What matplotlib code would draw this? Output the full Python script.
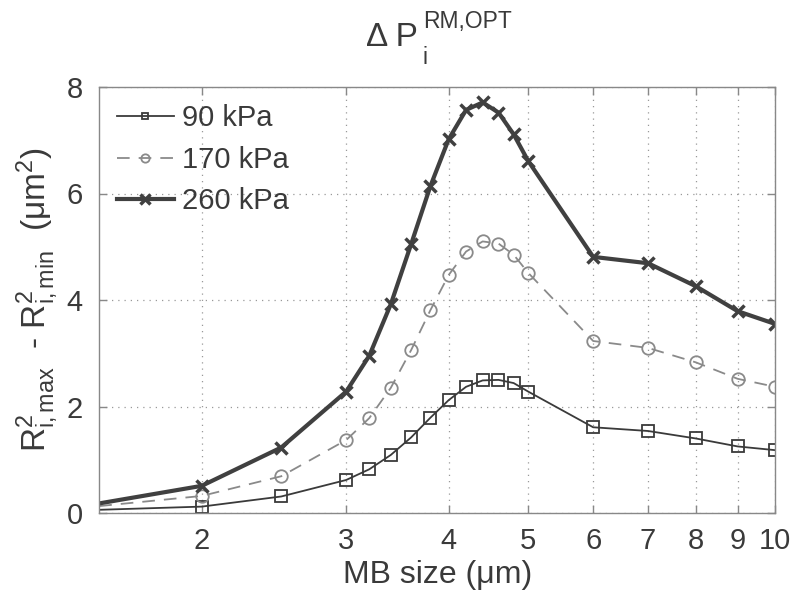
import matplotlib
matplotlib.use("Agg")
import matplotlib.pyplot as plt
from matplotlib.ticker import FixedLocator, NullLocator, FixedFormatter

plt.rcParams['font.family'] = ['Liberation Sans', 'DejaVu Sans']
plt.rcParams['mathtext.fontset'] = 'custom'
plt.rcParams['mathtext.rm'] = 'Liberation Sans'
plt.rcParams['mathtext.it'] = 'Liberation Sans'
plt.rcParams['mathtext.bf'] = 'Liberation Sans:bold'

mb_size = [1.5, 2, 2.5, 3, 3.2, 3.4, 3.6, 3.8, 4.0, 4.2, 4.4, 4.6, 4.8, 5.0, 6, 7, 8, 9, 10]
p90 = [0.06, 0.12, 0.31, 0.62, 0.82, 1.09, 1.42, 1.79, 2.12, 2.37, 2.49, 2.50, 2.44, 2.28, 1.61, 1.54, 1.40, 1.25, 1.18]
p170 = [0.13, 0.32, 0.69, 1.37, 1.78, 2.35, 3.06, 3.81, 4.47, 4.91, 5.10, 5.06, 4.85, 4.51, 3.23, 3.10, 2.83, 2.52, 2.37]
p260 = [0.18, 0.51, 1.23, 2.28, 2.95, 3.92, 5.05, 6.14, 7.02, 7.57, 7.71, 7.52, 7.11, 6.61, 4.81, 4.69, 4.26, 3.79, 3.55]
labels = ['90 kPa', '170 kPa', '260 kPa']
xticks = [2, 3, 4, 5, 6, 7, 8, 9, 10]
yticks = [0, 2, 4, 6, 8]

TXT = '#3a3a3a'

fig = plt.figure(figsize=(8, 6), dpi=100)
ax = fig.add_axes([0.124, 0.145, 0.845, 0.71])

mk = slice(1, None)
ax.plot(mb_size, p90, color='#3a3a3a', lw=1.3, marker='s', ms=8, mfc='none',
        mec='#3a3a3a', mew=1.3, markevery=mk, label=labels[0])
ax.plot(mb_size, p170, color='#8a8a8a', lw=1.3, ls=(0, (7, 5)), marker='o', ms=9,
        mfc='none', mec='#8a8a8a', mew=1.3, markevery=mk, label=labels[1])
ax.plot(mb_size, p260, color='#404040', lw=3, marker='x', ms=9, mew=2.5,
        markevery=mk, label=labels[2])

ax.set_xscale('log')
ax.set_xlim(1.5, 10)
ax.set_ylim(0, 8)
ax.xaxis.set_major_locator(FixedLocator(xticks))
ax.xaxis.set_major_formatter(FixedFormatter([str(t) for t in xticks]))
ax.xaxis.set_minor_locator(NullLocator())
ax.set_yticks(yticks)

ax.grid(True, ls=(0, (1, 4)), color='#999999', lw=0.9)
for s in ax.spines.values():
    s.set_color('#888888')
    s.set_linewidth(1.0)
ax.tick_params(direction='in', top=True, right=True, length=6, width=1.0,
               colors='#888888', labelcolor=TXT, labelsize=21)
ax.tick_params(axis='x', pad=10)
ax.tick_params(axis='y', pad=12)

ax.set_xlabel('MB size (μm)', fontsize=23, color=TXT, labelpad=4)
ax.set_ylabel(r'R$^2_{\rm i,max}$  - R$^2_{\rm i,min}$  (μm$^2$)', fontsize=24,
              color=TXT, labelpad=4)

# Title pieces (MATLAB-style raised superscript / lowered subscript)
fig.text(366 / 800, 1 - 46 / 600, 'Δ P', fontsize=24, color=TXT, ha='left', va='baseline')
fig.text(423 / 800, 1 - 28 / 600, 'RM,OPT', fontsize=16.5, color=TXT, ha='left', va='baseline')
fig.text(422 / 800, 1 - 64 / 600, 'i', fontsize=16.5, color=TXT, ha='left', va='baseline')

leg = ax.legend(loc='upper left', frameon=False, fontsize=21, handlelength=1.95,
                handletextpad=0.3, borderaxespad=0.3, labelspacing=0.46,
                borderpad=0.3)
for t in leg.get_texts():
    t.set_color(TXT)
for ln, ms in zip(leg.get_lines(), [5, 6, 7]):
    ln.set_markersize(ms)

fig.savefig('out.png', dpi=100)
